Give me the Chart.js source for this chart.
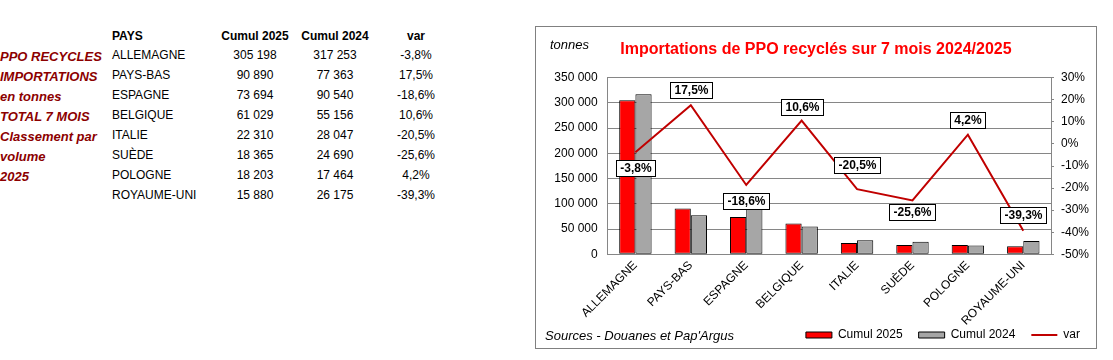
<!DOCTYPE html>
<html>
<head>
<meta charset="utf-8">
<script src="https://cdn.jsdelivr.net/npm/chart.js@4.4.1/dist/chart.umd.min.js"></script>
<style>
  body { margin: 0; width: 1113px; height: 360px; background: #fff; position: relative; overflow: hidden;
         font-family: Arial, "Liberation Sans", sans-serif; }
  .t { position: absolute; font-size: 12px; line-height: 14px; white-space: nowrap; color: #000; }
  .c { width: 100px; text-align: center; }
  .h { font-weight: bold; }
  .note { position: absolute; left: 0; font-size: 13px; line-height: 16px; font-weight: bold; font-style: italic; color: #8c0000; white-space: nowrap; }
  #box { position: absolute; left: 535px; top: 26px; width: 560px; height: 321px; border: 1px solid #808080; }
</style>
</head>
<body>
<div id="table"></div>
<div id="box"><canvas id="myChart" width="560" height="321"></canvas></div>
<script>
// data
const pays = ["ALLEMAGNE", "PAYS-BAS", "ESPAGNE", "BELGIQUE", "ITALIE", "SUÈDE", "POLOGNE", "ROYAUME-UNI"];
const cumul2025 = [305198, 90890, 73694, 61029, 22310, 18365, 18203, 15880];
const cumul2024 = [317253, 77363, 90540, 55156, 28047, 24690, 17464, 26175];
const variation = [-3.8, 17.5, -18.6, 10.6, -20.5, -25.6, 4.2, -39.3];
const notes = ["PPO RECYCLES", "IMPORTATIONS", "en tonnes", "TOTAL 7 MOIS", "Classement par", "volume", "2025"];

// where each % box sits relative to its point (px, + = below)
const labelDy = [15.5, -15.3, 16, -14, -24.5, 12, -15, -15.7];

function fmt(n) {
  return String(n).replace(/\B(?=(\d{3})+(?!\d))/g, " ");
}
function pct(v) {
  return v.toFixed(1).replace(".", ",") + "%";
}

// left table
let html = "";
html += '<div class="t h" style="left:112px;top:29px">PAYS</div>';
html += '<div class="t h c" style="left:205px;top:29px">Cumul 2025</div>';
html += '<div class="t h c" style="left:285px;top:29px">Cumul 2024</div>';
html += '<div class="t h c" style="left:366px;top:29px">var</div>';
for (i = 0; i < pays.length; i++) {
  const top = 48 + i * 20;
  html += '<div class="t" style="left:112px;top:' + top + 'px">' + pays[i] + "</div>";
  html += '<div class="t c" style="left:205px;top:' + top + 'px">' + fmt(cumul2025[i]) + "</div>";
  html += '<div class="t c" style="left:285px;top:' + top + 'px">' + fmt(cumul2024[i]) + "</div>";
  html += '<div class="t c" style="left:366px;top:' + top + 'px">' + pct(variation[i]) + "</div>";
}
for (i = 0; i < notes.length; i++) {
  html += '<div class="note" style="top:' + (49 + i * 20) + 'px">' + notes[i] + "</div>";
}
document.getElementById("table").innerHTML = html;

const FONT = 'Arial, "Liberation Sans", sans-serif';
const GRID = "#868686";

const boxLabels = {
  id: "boxLabels",
  afterDatasetsDraw(chart) {
    const meta = chart.getDatasetMeta(2);
    const ctx = chart.ctx;
    ctx.save();
    ctx.font = "bold 12px " + FONT;
    ctx.textAlign = "center";
    ctx.textBaseline = "middle";
    meta.data.forEach((pt, i) => {
      const txt = pct(variation[i]);
      const w = Math.round(ctx.measureText(txt).width + 8);
      const h = 16;
      const x = Math.round(pt.x - w / 2);
      const y = Math.round(pt.y + labelDy[i] - h / 2);
      ctx.fillStyle = "#fff";
      ctx.fillRect(x, y, w, h);
      ctx.strokeStyle = "#000";
      ctx.lineWidth = 1;
      ctx.strokeRect(x + 0.5, y + 0.5, w, h);
      ctx.fillStyle = "#000";
      ctx.fillText(txt, x + w / 2 + 0.5, y + h / 2 + 1);
    });
    ctx.restore();
  },
};

const extraText = {
  id: "extraText",
  afterDraw(chart) {
    const ctx = chart.ctx;
    ctx.save();
    ctx.font = "italic 13px " + FONT;
    ctx.fillStyle = "#000";
    ctx.textAlign = "left";
    ctx.textBaseline = "middle";
    ctx.fillText("tonnes", 14, 18.5);
    ctx.fillText("Sources - Douanes et Pap'Argus", 9, 309);
    ctx.restore();
  },
};

const ctx = document.getElementById("myChart");
new Chart(ctx, {
  type: "bar",
  data: {
    labels: pays,
    datasets: [
      {
        label: "Cumul 2025",
        data: cumul2025,
        backgroundColor: "#ff0000",
        borderColor: "#000",
        borderWidth: 1,
        borderSkipped: false,
        pointStyle: "rect",
        yAxisID: "y",
        order: 1,
      },
      {
        label: "Cumul 2024",
        data: cumul2024,
        backgroundColor: "#a6a6a6",
        borderColor: "#000",
        borderWidth: 1,
        borderSkipped: false,
        pointStyle: "rect",
        yAxisID: "y",
        order: 1,
      },
      {
        type: "line",
        label: "var",
        data: variation,
        borderColor: "#c00000",
        backgroundColor: "#c00000",
        borderWidth: 2,
        pointRadius: 0,
        pointStyle: "line",
        tension: 0,
        yAxisID: "y1",
        order: 0,
      },
    ],
  },
  options: {
    responsive: false,
    animation: false,
    categoryPercentage: 0.585,
    barPercentage: 1,
    layout: { padding: { top: 13, left: 0, right: 0, bottom: 0 } },
    plugins: {
      tooltip: { enabled: false },
      title: {
        display: true,
        text: "Importations de PPO recyclés sur 7 mois 2024/2025",
        color: "#ff0000",
        font: { family: FONT, size: 16, weight: "bold", lineHeight: 1.2 },
        padding: { top: 0, bottom: 18.5 },
      },
      legend: {
        position: "bottom",
        align: "end",
        maxHeight: 35,
        labels: {
          usePointStyle: true,
          pointStyleWidth: 26,
          boxHeight: 6,
          padding: 16,
          color: "#000",
          font: { family: FONT, size: 12 },
          sort: (a, b) => a.datasetIndex - b.datasetIndex,
        },
      },
    },
    scales: {
      x: {
        grid: { display: false, drawTicks: false },
        border: { color: GRID },
        ticks: {
          color: "#000",
          font: { family: FONT, size: 12 },
          minRotation: 45,
          maxRotation: 45,
          autoSkip: false,
          padding: 4,
        },
        afterFit: (s) => { s.height = 58.7; },
        // labels run down into the legend row, as in the original
        afterUpdate: (s) => { s._computeLabelArea = () => undefined; },
      },
      y: {
        position: "left",
        min: 0,
        max: 350000,
        grid: { color: GRID, drawTicks: false },
        border: { color: GRID },
        ticks: {
          stepSize: 50000,
          color: "#000",
          padding: 10,
          font: { family: FONT, size: 12 },
          callback: (v) => fmt(v),
        },
        afterFit: (s) => { s.width = 71.7; },
      },
      y1: {
        position: "right",
        min: -50,
        max: 30,
        grid: { drawOnChartArea: false, color: GRID, tickLength: 3 },
        border: { color: GRID },
        ticks: {
          stepSize: 10,
          color: "#000",
          padding: 7,
          font: { family: FONT, size: 12 },
          callback: (v) => v + "%",
        },
        afterFit: (s) => { s.width = 45; },
      },
    },
  },
  plugins: [boxLabels, extraText],
});
</script>
</body>
</html>
